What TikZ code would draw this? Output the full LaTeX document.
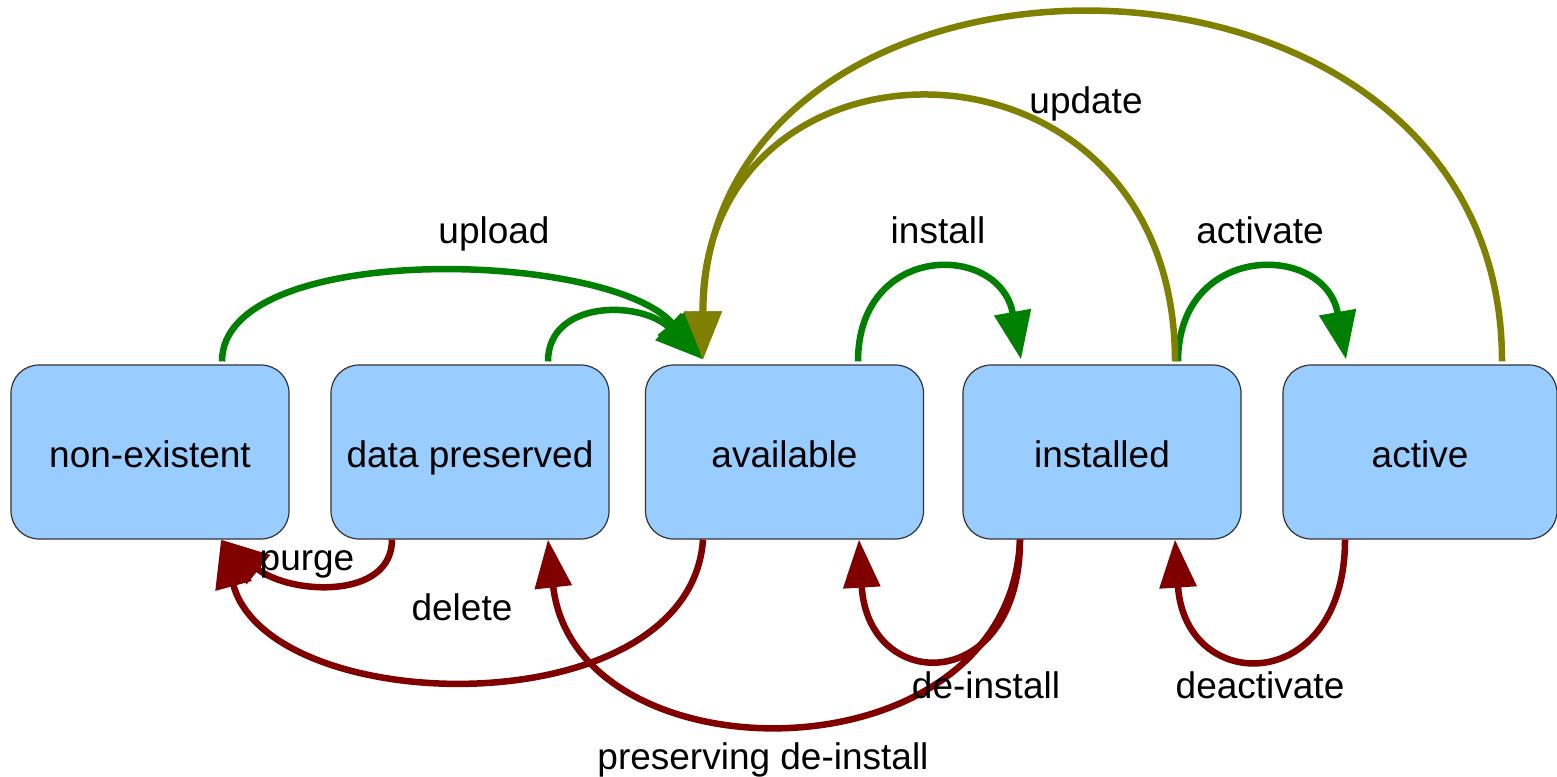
\documentclass[tikz,border=0pt]{standalone}
\usepackage{fontspec}
\setmainfont{Liberation Sans}
\usetikzlibrary{arrows.meta}
\definecolor{boxfill}{HTML}{99CCFF}
\definecolor{gr}{HTML}{008000}
\definecolor{dr}{HTML}{800000}
\definecolor{ol}{HTML}{808000}
\tikzset{
  state/.style={draw=black!80, line width=1.2pt, fill=boxfill, rounded corners=28pt,
    minimum width=278pt, minimum height=174pt, inner sep=0pt,
    text height=30pt, text depth=0pt,
    font=\fontsize{37}{44}\selectfont},
  lbl/.style={anchor=base, inner sep=0pt, font=\fontsize{37}{44}\selectfont},
  conn/.style={line width=6.5pt, -{Triangle[length=48pt,width=36pt]}},
  fwd/.style={conn, draw=gr},
  back/.style={conn, draw=dr},
  upd/.style={conn, draw=ol},
}
\begin{document}
\begin{tikzpicture}[x=1pt,y=-1pt]
\fill[white] (0,0) rectangle (1557,776);
\node[state] (nonex) at (150,452) {non-existent};
\node[state] (datap) at (470,452) {data preserved};
\node[state] (avail) at (784.5,452) {available};
\node[state] (inst) at (1102,452) {installed};
\node[state, minimum width=274pt] (active) at (1420,452) {active};

% forward (green)
\draw[fwd] ([xshift=72pt,yshift=3pt]nonex.north) .. controls (222,240) and (610,250) .. ([xshift=-81.5pt,yshift=5pt]avail.north);
\draw[fwd] ([xshift=78pt,yshift=3pt]datap.north) .. controls (548,300) and (640,300) .. ([xshift=-81.5pt,yshift=5pt]avail.north);
\draw[fwd] ([xshift=73.5pt,yshift=3pt]avail.north) .. controls (858,242) and (1000,242) .. ([xshift=-81pt,yshift=5pt]inst.north);
\draw[fwd] ([xshift=76pt,yshift=3pt]inst.north) .. controls (1178,242) and (1325,242) .. ([xshift=-74pt,yshift=5pt]active.north);

% update (olive)
\draw[upd] ([xshift=73pt,yshift=3pt]inst.north) .. controls (1175,14) and (700,14) .. ([xshift=-81.5pt,yshift=5pt]avail.north);
\draw[upd] ([xshift=82pt,yshift=3pt]active.north) .. controls (1502,-98) and (705,-98) .. ([xshift=-81.5pt,yshift=5pt]avail.north);

% backward (dark red)
\draw[back] ([xshift=-78pt]datap.south) .. controls (392,600) and (290,595) .. ([xshift=71pt]nonex.south);
\draw[back] ([xshift=-81.5pt]avail.south) .. controls (690,728) and (270,720) .. ([xshift=71pt]nonex.south);
\draw[back] ([xshift=-82pt]inst.south) .. controls (1010,783) and (575,783) .. ([xshift=78pt]datap.south);
\draw[back] ([xshift=-82pt]inst.south) .. controls (1020,695) and (868,695) .. ([xshift=74.5pt]avail.south);
\draw[back] ([xshift=-75pt]active.south) .. controls (1345,696) and (1185,696) .. ([xshift=73pt]inst.south);

% labels
\node[lbl] (l-upload) at (494,243) {upload};
\node[lbl] (l-install) at (938,243) {install};
\node[lbl] (l-activate) at (1260,243) {activate};
\node[lbl] (l-update) at (1086,113) {update};
\node[lbl] (l-purge) at (307,570) {purge};
\node[lbl] (l-delete) at (462,620) {delete};
\node[lbl] (l-deinstall) at (986,698) {de-install};
\node[lbl] (l-deactivate) at (1260,698) {deactivate};
\node[lbl] (l-pdeinstall) at (763,769) {preserving de-install};

\pgfresetboundingbox
\useasboundingbox (0,0) rectangle (1557,776);
\end{tikzpicture}
\end{document}
